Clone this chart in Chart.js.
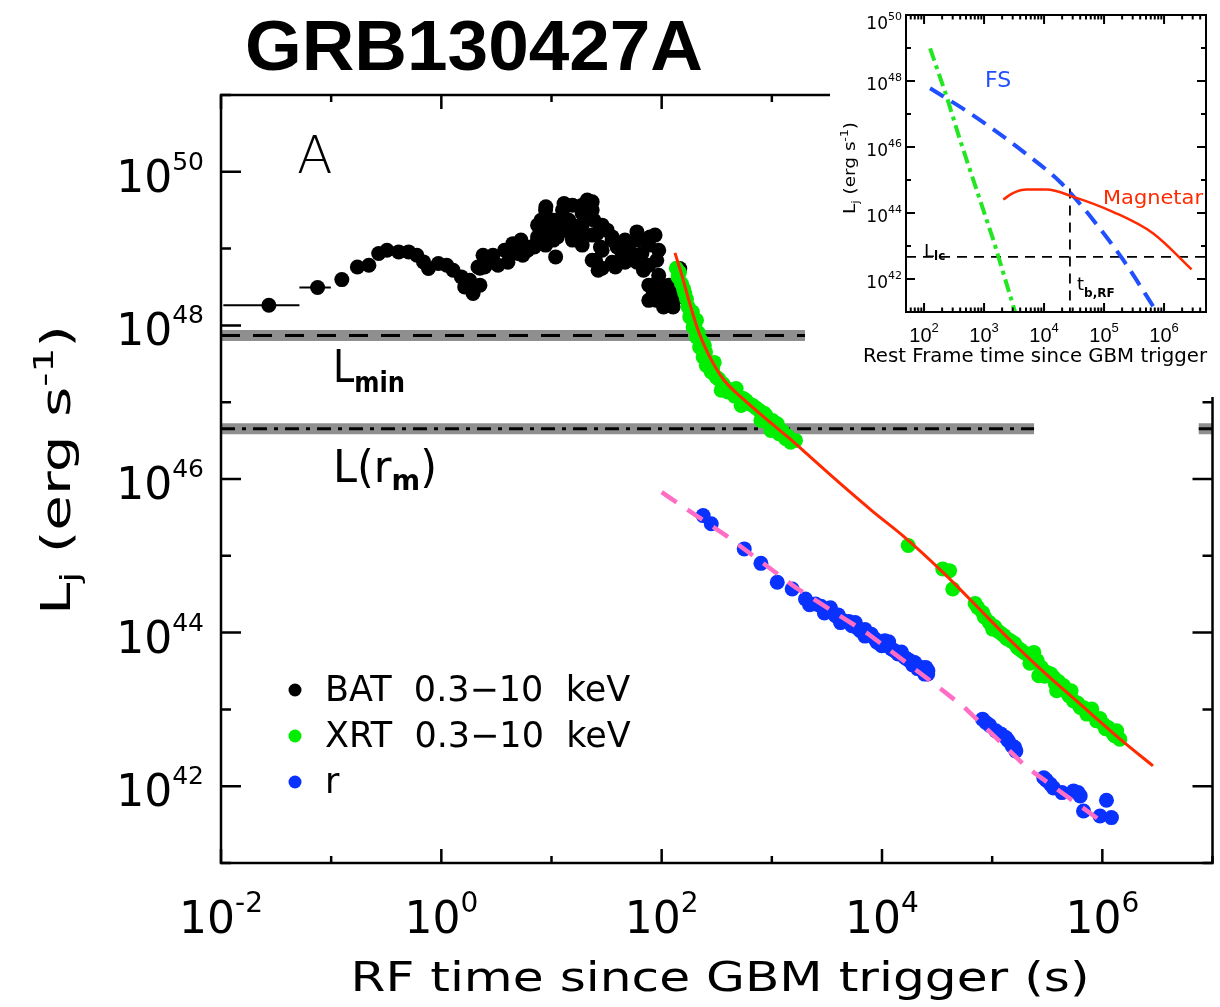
<!DOCTYPE html>
<html>
<head>
<meta charset="utf-8">
<title>GRB130427A</title>
<script src="https://cdn.jsdelivr.net/npm/chart.js@4.4.1/dist/chart.umd.min.js"></script>
<style>
  html, body { margin: 0; padding: 0; background: #fff; }
  #wrap { position: relative; width: 1220px; height: 1007px; overflow: hidden; }
  canvas { position: absolute; top: 0; }
  #main { left: 0; }
  #inset { left: 830px; background: #fff; }
</style>
</head>
<body>
<div id="wrap">
  <canvas id="main" width="1220" height="1007"></canvas>
  <canvas id="inset" width="390" height="397"></canvas>
</div>
<script>
// ---- main panel data (rest frame time in s, luminosity in erg/s) ----
const batTime = [0.0272, 0.0753, 0.125, 0.173, 0.220, 0.270, 0.321, 0.410, 0.505, 0.600, 0.689, 0.764,
  0.940, 1.12, 1.28, 1.52, 1.63, 1.81, 1.94, 2.15, 2.24, 2.24, 2.39, 2.47, 2.84, 2.94, 2.94, 3.27, 3.75, 4.02, 4.02,
  4.46, 4.94, 5.28, 5.48, 5.48, 6.08, 6.51, 6.98, 7.48, 7.48, 7.48, 8.02, 8.83, 8.83, 8.83, 8.89, 9.2, 9.87,
  10.4, 10.4, 10.9, 11.3, 12.6, 12.6, 13.0, 13.0, 14.4, 15.5, 15.5, 15.5, 15.5, 17.1, 18.4, 19.0, 19.0, 19.0, 19.0,
  21.1, 23.4, 23.4, 23.4, 23.4, 24.3, 25.1, 26.0, 26.5, 27.8, 28.8, 28.8, 28.8, 32.0, 35.5, 35.5, 35.5, 38.0, 39.4,
  43.6, 46.5, 46.5, 48.4, 53.7, 59.6, 59.6, 59.6, 66.1, 68.4, 76.4, 76.4, 76.4, 76.4, 78.5, 84.1, 87.1, 90.2, 90.2,
  93.3, 94, 94, 94, 96, 104, 112, 116, 116, 120, 127, 141, 146];
const batLum = [1.83e48, 3.11e48, 3.95e48, 5.77e48, 6.08e48, 8.63e48, 9.53e48, 9.06e48, 9.06e48, 8.20e48, 6.71e48, 5.51e48,
  6.40e48, 6.08e48, 5.22e48, 4.28e48, 3.17e48, 3.87e48, 2.60e48, 5.77e48, 5.55e48, 3.34e48, 8.20e48, 5.77e48, 7.80e48, 8.20e48, 6.65e48, 6.08e48, 9.53e48, 9.53e48, 6.65e48,
  1.16e49, 8.63e48, 1.29e49, 1.11e49, 8.20e48, 9.53e48, 1.05e49, 1.05e49, 1.42e49, 2.02e49, 1.29e49, 2.34e49, 3.17e49, 2.02e49, 1.11e49, 3.50e49, 1.57e49, 1.74e49,
  2.34e49, 1.29e49, 7.80e48, 1.42e49, 3.17e49, 1.74e49, 3.87e49, 2.34e49, 2.34e49, 1.42e49, 3.68e49, 2.02e49, 1.29e49, 1.92e49, 1.42e49, 2.87e49, 3.68e49, 2.02e49, 1.11e49,
  4.28e49, 4.06e49, 3.17e49, 1.50e49, 7.06e48, 2.34e49, 7.06e48, 1.57e49, 5.22e48, 1.05e49, 2.02e49, 9.53e48, 5.55e48, 1.74e49, 1.42e49, 1.29e49, 6.65e48, 5.77e48, 1.05e49,
  7.80e48, 1.29e49, 6.65e48, 1.05e49, 8.63e48, 1.65e49, 1.29e49, 6.65e48, 8.63e48, 5.22e48, 1.11e49, 6.08e48, 3.34e48, 2.12e48, 1.42e49, 2.60e48, 1.50e49, 7.06e48, 2.12e48,
  3.87e48, 9.53e48, 4.50e48, 2.47e48, 2.9e48, 1.74e48, 2.2e48, 2.12e48, 3.34e48, 3.2e48, 1.74e48, 2.34e48, 5.51e48];
// time bins drawn as horizontal error bars for the first two BAT points
const batErrLo = [0.0105, 0.0515];
const batErrHi = [0.0515, 0.0993];
const batErrLum = [1.83e48, 3.11e48];

const xrtTime = [136, 141, 145, 151, 158, 162, 168, 174, 180, 190, 200, 207, 193, 207, 215, 221, 228, 244, 238, 250,
  254, 270, 300, 282, 290, 313, 330, 347, 360, 380, 399, 420, 443, 460, 474, 507, 526, 550, 583, 620, 670, 720,
  769, 796, 850, 883, 930, 980, 1010, 1050, 1120, 1160, 1250, 1340, 1400, 1480, 1640,
  1.73e4, 3.56e4, 4.10e4, 4.39e4, 7.0e4, 7.38e4, 8.18e4, 8.5e4, 9.40e4, 1.01e5, 1.05e5, 1.11e5, 1.2e5, 1.28e5, 1.35e5,
  1.47e5, 1.6e5, 1.69e5, 1.8e5, 1.94e5, 2.1e5, 2.2e5, 2.23e5, 2.39e5, 2.56e5, 2.65e5, 2.8e5, 3.0e5, 3.15e5, 3.4e5,
  3.62e5, 3.75e5, 3.85e5, 4.0e5, 4.2e5, 4.46e5, 4.77e5, 5.0e5, 5.2e5, 5.48e5, 6.0e5, 6.30e5, 6.8e5, 7.23e5, 7.5e5,
  8.02e5, 8.89e5, 9.5e5, 1.02e6, 1.07e6, 1.13e6, 1.2e6, 1.26e6, 1.3e6, 1.35e6, 1.44e6];
const xrtLum = [5.55e48, 4.28e48, 4.9e48, 3.51e48, 3.0e48, 2.60e48, 2.2e48, 1.74e48, 1.29e48, 1.5e48, 1.0e48, 1.17e48, 9.53e47, 7.06e47, 8.0e47, 5.22e47, 6.3e47, 5.51e47, 3.87e47, 4.5e47,
  3.02e47, 3.3e47, 3.30e47, 2.47e47, 2.7e47, 2.12e47, 2.0e47, 1.43e47, 1.74e47, 1.55e47, 1.36e47, 1.45e47, 1.29e47, 1.2e47, 1.51e47, 1.17e47, 9.08e46, 1.12e47, 1.05e47, 9.6e46, 9.08e46, 8.4e46,
  7.82e46, 5.79e46, 7.2e46, 6.73e46, 5.4e46, 4.29e46, 5.79e46, 4.8e46, 5.25e46, 3.88e46, 4.2e46, 3.34e46, 3.6e46, 3.02e46, 3.18e46,
  1.36e45, 6.75e44, 6.41e44, 3.70e44, 2.4e44, 2.13e44, 1.83e44, 1.6e44, 1.36e44, 1.11e44, 1.2e44, 1.06e44, 9.8e43, 9.12e43, 8.4e43,
  7.84e43, 7.2e43, 6.41e43, 6.0e43, 5.52e43, 5.2e43, 4.0e43, 4.75e43, 5.52e43, 4.31e43, 2.74e43, 3.5e43, 2.7e43, 3.03e43, 2.9e43,
  2.61e43, 2.14e43, 1.75e43, 2.3e43, 1.9e43, 2.03e43, 1.66e43, 1.5e43, 1.75e43, 1.29e43, 1.2e43, 1.06e43, 1.05e43, 8.69e42, 9.5e42,
  1.01e43, 7.10e42, 7.6e42, 6.43e42, 5.6e42, 5.81e42, 5.3e42, 4.76e42, 4.5e42, 5.26e42, 4.10e42];

const rTime = [238, 282, 562, 796, 1120, 1530, 2020, 2200, 2490, 2800, 3000, 3170, 3400, 3780, 4000, 4200, 4480, 5000,
  5330, 5710, 6000, 6340, 7000, 7000, 7530, 8000, 8650, 9000, 9930, 1.06e4, 1.1e4, 1.15e4, 1.22e4, 1.3e4, 1.40e4,
  1.5e4, 1.61e4, 1.7e4, 1.79e4, 1.9e4, 1.98e4, 2.1e4, 2.28e4, 2.44e4, 2.5e4, 2.6e4, 2.61e4,
  8.18e4, 8.77e4, 9.5e4, 1.08e5, 1.2e5, 1.33e5, 1.4e5, 1.52e5, 1.6e5, 1.64e5, 2.94e5, 3.1e5, 3.38e5, 3.6e5, 4.30e5,
  5.48e5, 6.0e5, 6.30e5, 6.75e5, 9.53e5, 1.09e6, 1.21e6];
const rLum = [3.34e45, 2.61e45, 1.23e45, 7.98e44, 4.52e44, 3.70e44, 2.74e44, 2.3e44, 2.36e44, 2.2e44, 1.8e44, 1.93e44, 2.11e44, 1.66e44, 1.7e44, 1.35e44, 1.43e44, 1.4e44,
  1.23e44, 1.35e44, 1.15e44, 1.06e44, 1.1e44, 9.0e43, 9.59e43, 9.5e43, 8.26e43, 7.5e43, 6.75e43, 7.84e43, 6.8e43, 7.6e43, 6.11e43, 5.8e43, 5.26e43,
  5.6e43, 4.75e43, 4.5e43, 4.31e43, 3.8e43, 4.08e43, 3.4e43, 3.52e43, 2.88e43, 3.5e43, 2.9e43, 3.18e43,
  7.47e42, 6.75e42, 6.2e42, 5.26e42, 4.8e42, 4.31e42, 3.9e42, 3.35e42, 3.2e42, 2.88e42, 1.29e42, 1.2e42, 1.06e42, 9.5e41, 8.26e41,
  8.69e41, 8.3e41, 7.48e41, 4.76e41, 4.10e41, 6.56e41, 3.90e41];

// magnetar model through the X-ray data (red) and fit to the r band (pink)
const modelTime = [132, 151, 180, 214, 264, 360, 545, 883, 1430, 2020, 4040, 8070, 1.61e4, 3.70e4, 9.08e4,
  1.58e5, 2.75e5, 4.76e5, 8.30e5, 1.45e6, 2.88e6];
const modelLum = [8.79e48, 4.73e48, 1.92e48, 8.63e47, 4.29e47, 2.02e47, 1.11e47, 6.10e46, 3.42e46, 2.20e46, 9.08e45, 3.88e45, 1.74e45, 5.81e44, 1.58e44,
  7.10e43, 3.35e43, 1.66e43, 8.26e42, 4.10e42, 1.84e42];
const rFitTime = [100, 385, 1640, 7520, 3.0e4, 5.6e4, 2.07e5, 1.02e6];
const rFitLum = [6.73e45, 1.83e45, 3.88e44, 9.59e43, 2.14e43, 1.06e43, 1.75e42, 3.35e41];

// limiting luminosities and the time ranges they are drawn over
const Lmin = 7.4e47;
const LminRange = [0.01, 2.0e3];
const Lrm = 4.5e46;
const LrmRanges = [[0.01, 2.4e5], [7.5e6, 1e7]];

const xTickExps = [-2, 0, 2, 4, 6];
const yTickExps = [42, 44, 46, 48, 50];
const legendLabels = ['BAT  0.3\u221210  keV', 'XRT  0.3\u221210  keV', 'r'];
const legendColors = ['#000000', '#00ee00', '#0a32ff'];

// ---- inset data ----
const fsTime = [126, 585, 3510, 1.85e4, 3.51e4, 6.64e4, 2.10e5, 7.55e5];
const fsLum = [6.03e47, 1.05e47, 1.02e46, 8.71e44, 2.45e44, 6.03e43, 3.72e42, 1.0e41];
const magTime = [2090, 3090, 5130, 1.10e4, 3.09e4, 1.43e5, 6.61e5, 2.88e6];
const magLum = [2.57e44, 4.07e44, 5.13e44, 5.13e44, 3.09e44, 1.07e44, 2.40e43, 1.95e42];
const sdTime = [126, 239, 398, 755, 1430, 3290];
const sdLum = [9.77e48, 3.31e47, 1.62e46, 4.90e44, 1.51e43, 1.0e41];
const Llc = 4.7e42;
const tbRF = 2.7e4;
const tbLumTop = 5.5e44;
const insetXTickExps = [2, 3, 4, 5, 6];
const insetYTickExps = [42, 44, 46, 48, 50];

const pts = (xs, ys) => xs.map((x, i) => ({ x: x, y: ys[i] }));
const FAM = '"DejaVu Sans", sans-serif';
const font = (px, weight, fam) => (weight || 'normal') + ' ' + px + 'px ' + (fam || FAM);

// draws text made of pieces [text, size, rise, weight]; optional width stretches it
function richText(ctx, parts, x, y, opts) {
    opts = opts || {};
    let total = 0;
    for (const p of parts) {
        ctx.font = font(p[1], p[3], opts.fam);
        total += ctx.measureText(p[0]).width;
    }
    const sx = opts.width ? opts.width / total : 1;
    const w = total * sx;
    const x0 = opts.align === 'center' ? x - w / 2 : opts.align === 'right' ? x - w : x;
    ctx.save();
    ctx.translate(x0, y);
    ctx.scale(sx, 1);
    let cx = 0;
    for (const p of parts) {
        ctx.font = font(p[1], p[3], opts.fam);
        ctx.fillText(p[0], cx, -p[2]);
        cx += ctx.measureText(p[0]).width;
    }
    ctx.restore();
}

function hline(ranges, value, color, width, dash, order) {
    return ranges.map(r => ({
        data: [{ x: r[0], y: value }, { x: r[1], y: value }],
        showLine: true, pointRadius: 0, borderColor: color, borderWidth: width,
        borderDash: dash || [], order: order,
    }));
}

// frame, inward ticks, labels and legend of the main panel
const mainDecor = {
    id: 'mainDecor',
    afterDraw(chart) {
        const ctx = chart.ctx;
        const a = chart.chartArea;
        const xs = chart.scales.x, ys = chart.scales.y;
        ctx.save();
        ctx.strokeStyle = '#000';
        ctx.fillStyle = '#000';
        ctx.lineWidth = 2.5;
        ctx.beginPath();
        for (let e = -2; e <= 7; e++) {
            const px = xs.getPixelForValue(Math.pow(10, e));
            const len = e % 2 === 0 ? 14 : 7;
            ctx.moveTo(px, a.bottom); ctx.lineTo(px, a.bottom - len);
            ctx.moveTo(px, a.top); ctx.lineTo(px, a.top + len);
        }
        for (let e = 41; e <= 51; e++) {
            const py = ys.getPixelForValue(Math.pow(10, e));
            const len = e % 2 === 0 ? 20 : 10;
            ctx.moveTo(a.left, py); ctx.lineTo(a.left + len, py);
            ctx.moveTo(a.right, py); ctx.lineTo(a.right - len, py);
        }
        ctx.stroke();
        ctx.strokeRect(a.left, a.top, a.right - a.left, a.bottom - a.top);

        xTickExps.forEach(e => {
            richText(ctx, [['10', 44, 0], [String(e), 28, 21]], xs.getPixelForValue(Math.pow(10, e)), 933, { align: 'center' });
        });
        yTickExps.forEach(e => {
            const py = ys.getPixelForValue(Math.pow(10, e));
            richText(ctx, [['10', 44, 0], [String(e), 25, 22]], 204, py + 20, { align: 'right' });
        });

        // axis titles
        richText(ctx, [['RF time since GBM trigger (s)', 40, 0]], 720, 991, { align: 'center', width: 739 });
        ctx.save();
        ctx.translate(70, 470);
        ctx.rotate(-Math.PI / 2);
        richText(ctx, [['L', 40, 0], ['j', 27, -9], [' (erg s', 40, 0], ['-1', 27, 17], [')', 40, 0]], 0, 0, { align: 'center', width: 290 });
        ctx.restore();

        // title and annotations
        richText(ctx, [['GRB130427A', 70, 0, 'bold']], 245, 70, { width: 458, fam: '"Liberation Sans", Arial, sans-serif' });
        richText(ctx, [['A', 52, 0, '300']], 297, 173);
        richText(ctx, [['L', 44, 0], ['min', 28, -10, 'bold']], 333, 382, { width: 72 });
        richText(ctx, [['L(r', 44, 0], ['m', 28, -8, 'bold'], [')', 44, 0]], 333, 482, { width: 104 });

        // legend
        legendLabels.forEach((label, i) => {
            const ly = [690, 736, 782][i];
            ctx.fillStyle = legendColors[i];
            ctx.beginPath();
            ctx.arc(295, ly, 6.5, 0, Math.PI * 2);
            ctx.fill();
            ctx.fillStyle = '#000';
            ctx.font = font(35);
            ctx.fillText(label, 325, ly + 11);
        });
        ctx.restore();
    }
};

const mainChart = new Chart(document.getElementById('main'), {
    type: 'scatter',
    data: {
        datasets: [
            { data: pts(modelTime, modelLum), showLine: true, pointRadius: 0, borderColor: '#ff2a00', borderWidth: 3, cubicInterpolationMode: 'monotone', order: 1 },
            { data: pts(rFitTime, rFitLum), showLine: true, pointRadius: 0, borderColor: '#ff6ec4', borderWidth: 4.5, borderDash: [18, 13], order: 2 },
            { data: pts(xrtTime, xrtLum), pointRadius: 7.5, backgroundColor: '#00ee00', borderColor: '#00ee00', borderWidth: 0, order: 3 },
            { data: pts(rTime, rLum), pointRadius: 7.5, backgroundColor: '#0a32ff', borderColor: '#0a32ff', borderWidth: 0, order: 4 },
            { data: pts(batTime, batLum), pointRadius: 7.5, backgroundColor: '#000', borderColor: '#000', borderWidth: 0, order: 5 },
            ...batErrLum.map((l, i) => ({
                data: [{ x: batErrLo[i], y: l }, { x: batErrHi[i], y: l }],
                showLine: true, pointRadius: 0, borderColor: '#000', borderWidth: 2, order: 5,
            })),
            ...hline([LminRange], Lmin, '#000', 3, [19, 13], 6),
            ...hline(LrmRanges, Lrm, '#000', 3, [14, 7, 4, 7], 6),
            ...hline([LminRange], Lmin, '#8f8f8f', 11, null, 7),
            ...hline(LrmRanges, Lrm, '#8f8f8f', 11, null, 7),
        ]
    },
    options: {
        responsive: false,
        animation: false,
        events: [],
        layout: { padding: { left: 221, right: 1, top: 95, bottom: 144 } },
        scales: {
            x: { type: 'logarithmic', min: 1e-2, max: 1e7, display: false },
            y: { type: 'logarithmic', min: 1e41, max: 1e51, display: false },
        },
        plugins: { legend: { display: false }, tooltip: { enabled: false } },
    },
    plugins: [mainDecor],
});

// ---- inset: model components ----
const insetDecor = {
    id: 'insetDecor',
    afterDraw(chart) {
        const ctx = chart.ctx;
        const a = chart.chartArea;
        const xs = chart.scales.x, ys = chart.scales.y;
        ctx.save();
        ctx.strokeStyle = '#000';
        ctx.fillStyle = '#000';
        ctx.lineWidth = 2;
        ctx.beginPath();
        for (let e = 1; e <= 6; e++) {
            for (let m = 1; m <= 9; m++) {
                const v = m * Math.pow(10, e);
                if (v <= 50 || v >= 5e6) continue;
                const px = xs.getPixelForValue(v);
                const len = m === 1 ? 9 : 4.5;
                ctx.moveTo(px, a.bottom); ctx.lineTo(px, a.bottom - len);
                ctx.moveTo(px, a.top); ctx.lineTo(px, a.top + len);
            }
        }
        for (let e = 41; e <= 50; e++) {
            const py = ys.getPixelForValue(Math.pow(10, e));
            const len = e % 2 === 0 ? 9 : 5;
            ctx.moveTo(a.left, py); ctx.lineTo(a.left + len, py);
            ctx.moveTo(a.right, py); ctx.lineTo(a.right - len, py);
        }
        ctx.stroke();
        ctx.strokeRect(a.left, a.top, a.right - a.left, a.bottom - a.top);

        insetXTickExps.forEach(e => {
            richText(ctx, [['10', 20, 0], [String(e), 13, 10]], xs.getPixelForValue(Math.pow(10, e)), 342,
                { align: 'center', fam: '"Liberation Sans", Arial, sans-serif' });
        });
        insetYTickExps.forEach(e => {
            const py = ys.getPixelForValue(Math.pow(10, e));
            richText(ctx, [['10', 17, 0], [String(e), 11, 9]], 72, Math.max(py, 20) + 9, { align: 'right' });
        });
        richText(ctx, [['Rest Frame time since GBM trigger', 19.5, 0]], 205, 362, { align: 'center', width: 344 });
        ctx.save();
        ctx.translate(25, 168);
        ctx.rotate(-Math.PI / 2);
        richText(ctx, [['L', 15, 0], ['j', 10, -4], [' (erg s', 15, 0], ['-1', 10, 7], [')', 15, 0]], 0, 0, { align: 'center', width: 92 });
        ctx.restore();

        richText(ctx, [['L', 18, 0], ['lc', 12, -3, 'bold']], 94, 257);
        richText(ctx, [['t', 18, 0], ['b,RF', 12, -7, 'bold']], 247, 290);
        ctx.fillStyle = '#1f4fff';
        richText(ctx, [['FS', 22, 0]], 155, 87);
        ctx.fillStyle = '#ff2a00';
        richText(ctx, [['Magnetar', 19, 0]], 273, 204, { width: 100 });
        ctx.restore();
    }
};

const insetChart = new Chart(document.getElementById('inset'), {
    type: 'scatter',
    data: {
        datasets: [
            { data: pts(magTime, magLum), showLine: true, pointRadius: 0, borderColor: '#ff2a00', borderWidth: 2.5, cubicInterpolationMode: 'monotone' },
            { data: pts(fsTime, fsLum), showLine: true, pointRadius: 0, borderColor: '#1f4fff', borderWidth: 4, borderDash: [16, 9], cubicInterpolationMode: 'monotone' },
            { data: pts(sdTime, sdLum), showLine: true, pointRadius: 0, borderColor: '#22e622', borderWidth: 4, borderDash: [13, 5, 4, 5] },
            { data: [{ x: 50, y: Llc }, { x: 5e6, y: Llc }], showLine: true, pointRadius: 0, borderColor: '#000', borderWidth: 1.8, borderDash: [10, 7] },
            { data: [{ x: tbRF, y: tbLumTop }, { x: tbRF, y: 1e41 }], showLine: true, pointRadius: 0, borderColor: '#000', borderWidth: 1.8, borderDash: [10, 7] },
        ]
    },
    options: {
        responsive: false,
        animation: false,
        events: [],
        layout: { padding: { left: 76, right: 14, top: 15, bottom: 85 } },
        scales: {
            x: { type: 'logarithmic', min: 50, max: 5e6, display: false },
            y: { type: 'logarithmic', min: 1e41, max: 1e50, display: false },
        },
        plugins: { legend: { display: false }, tooltip: { enabled: false } },
    },
    plugins: [insetDecor],
});
</script>
</body>
</html>
